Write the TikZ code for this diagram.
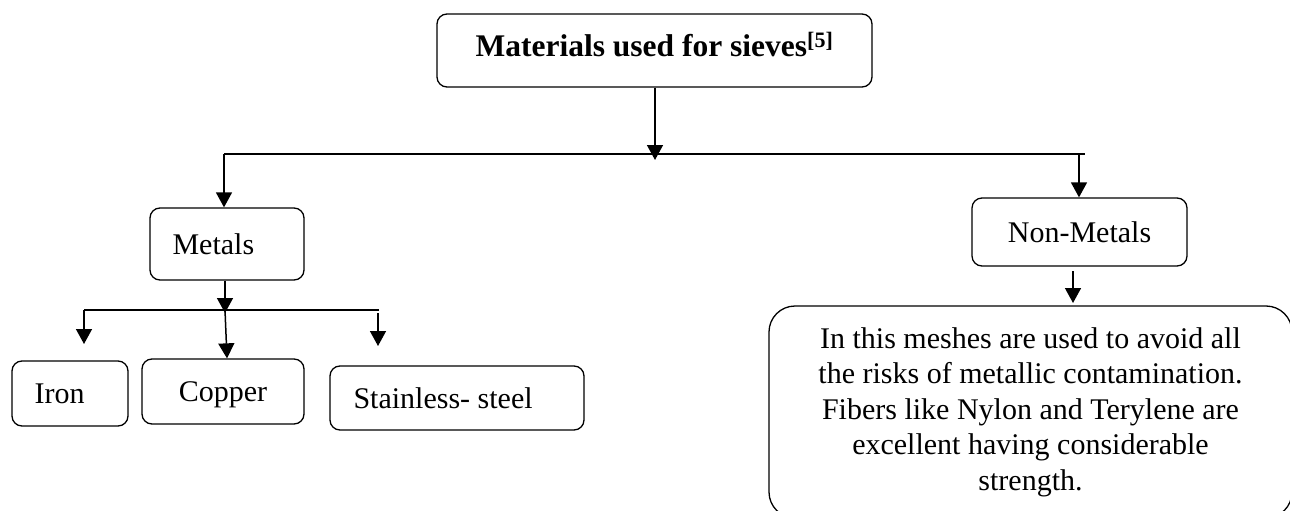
\documentclass[tikz,border=0pt]{standalone}
\usepackage{fontspec}
\setmainfont{Liberation Serif}
\usetikzlibrary{arrows.meta}
\begin{document}
\begin{tikzpicture}[x=1pt,y=-1pt,
  box/.style={draw,line width=1.3pt,rounded corners=10pt,inner sep=0pt,
    font=\fontsize{30}{35.5}\selectfont,text height=20pt,text depth=0pt},
  lbl/.style={font=\fontsize{30}{35.5}\selectfont,inner sep=0pt,text height=20pt,text depth=0pt},
  arr/.style={line width=1.5pt,-{Triangle[length=15pt,width=16pt]}},
  ln/.style={line width=1.3pt}]
\useasboundingbox (0,0) rectangle (1290,511);
\node[box,minimum width=435pt,minimum height=73pt,font=\fontsize{31.5}{36}\selectfont\bfseries,text depth=8pt] (top) at (654.5,50.5)
  {Materials used for sieves\textsuperscript{[5]}};
\node[box,minimum width=154pt,minimum height=72pt,label={[lbl,anchor=west,xshift=23pt]west:Metals}] (metals) at (227,244) {};
\node[box,minimum width=215pt,minimum height=68pt] (nonmetals) at (1079.5,232) {Non-Metals};
\node[box,minimum width=116pt,minimum height=65pt,label={[lbl,anchor=west,xshift=23pt]west:Iron}] (iron) at (70,393.5) {};
\node[box,minimum width=162pt,minimum height=65pt] (copper) at (223,391.5) {Copper};
\node[box,minimum width=254pt,minimum height=64pt,label={[lbl,anchor=west,xshift=24pt]west:Stainless- steel}] (steel) at (457,398) {};
\node[box,rounded corners=26pt,minimum width=523pt,minimum height=212pt,align=center,text height=,text depth=] (desc) at (1030.5,412)
  {In this meshes are used to avoid all\\the risks of metallic contamination.\\Fibers like Nylon and Terylene are\\excellent having considerable\\strength.};
% connectors
\coordinate (j1) at (655,154);
\coordinate (l1) at (224,154);
\coordinate (r1) at (1085,154);
\coordinate (rn) at (1079,154);
\draw[arr] (top.south -| j1) -- (655,160);
\draw[ln] (l1) -- (r1);
\draw[arr] (l1) -- (metals.north -| l1);
\draw[arr] (rn) -- (nonmetals.north -| rn);
\coordinate (j2) at (225,310);
\coordinate (l2) at (84,310);
\coordinate (r2) at (379,310);
\draw[arr] (metals.south -| j2) -- (225,313);
\draw[ln] (l2) -- (r2);
\draw[arr] (j2) -- (copper.north -| 227,0);
\coordinate (e1) at (84,344);
\coordinate (s3) at (378,313);
\coordinate (e3) at (378,346);
\draw[arr] (l2) -- (e1);
\draw[arr] (s3) -- (e3);
\coordinate (s4) at (1073,271);
\coordinate (e4) at (1073,303);
\draw[arr] (s4) -- (e4);
\end{tikzpicture}
\end{document}
